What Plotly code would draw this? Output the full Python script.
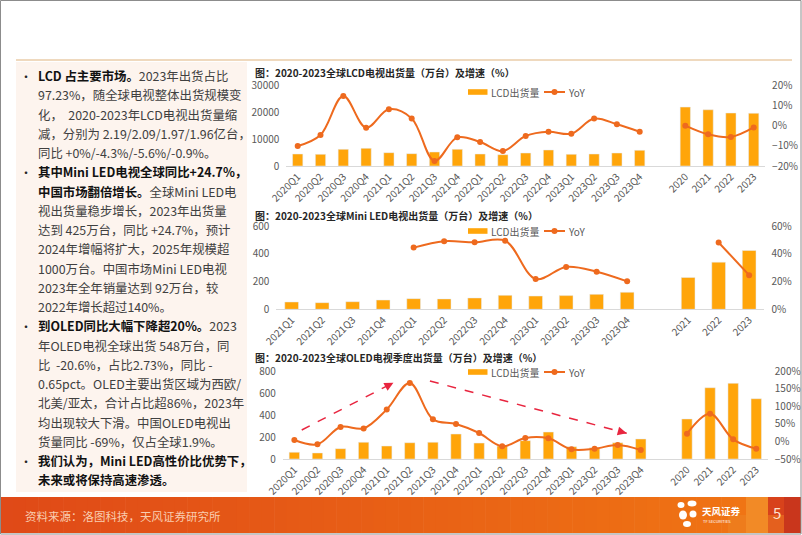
import plotly.graph_objects as go

W, H = 802, 535
def px(x): return x / W
def py(y): return 1 - y / H

# ---------------- data ----------------
lcd_quarters = ['2020Q1','2020Q2','2020Q3','2020Q4','2021Q1','2021Q2','2021Q3','2021Q4',
                '2022Q1','2022Q2','2022Q3','2022Q4','2023Q1','2023Q2','2023Q3','2023Q4']
lcd_years = ['2020','2021','2022','2023']
lcd_q_ship = [4460,4340,6200,6570,4960,4590,5200,6200,4460,4210,4830,5950,4340,4460,4830,5820]
lcd_q_yoy = [-10.1,-4.6,14.7,-1.0,8.1,3.6,-17.5,-5.8,-8.1,-12.6,-5.1,-3.0,-4.0,3.5,0.7,-3.0]
lcd_y_ship = [21900,20900,19700,19600]
lcd_y_yoy = [0.0,-4.3,-5.6,-0.9]

mini_quarters = ['2021Q1','2021Q2','2021Q3','2021Q4','2022Q1','2022Q2','2022Q3','2022Q4',
                 '2023Q1','2023Q2','2023Q3','2023Q4']
mini_years = ['2021','2022','2023']
mini_q_ship = [53,48,55,67,77,75,82,101,96,99,108,123]
mini_q_yoy = [None,None,None,None,44.6,49.2,48.4,49.6,21.9,30.6,27.2,20.2]
mini_y_ship = [230,341,425]
mini_y_yoy = [None,48.3,24.7]

oled_quarters = lcd_quarters
oled_years = ['2020','2021','2022','2023']
oled_q_ship = [61,55,94,152,118,148,152,227,145,118,167,245,112,103,148,182]
oled_q_yoy = [4,-8.3,41,37,90.7,166,62.7,49.4,23.9,-14,9.7,8.7,-22.5,-20.6,-10.2,-24.4]
oled_y_ship = [364,648,688,548]
oled_y_yoy = [22,78.8,5.9,-20.6]

titles = ['图：2020-2023全球LCD电视出货量（万台）及增速（%）',
          '图：2020-2023全球Mini LED电视出货量（万台）及增速（%）',
          '图：2020-2023全球OLED电视季度出货量（万台）及增速（%）']
legend_bar = 'LCD出货量'
legend_line = 'YoY'

text_lines = [
    "<b><span style='color:#111'>LCD 占主要市场。</span></b>2023年出货占比",
    "97.23%，随全球电视整体出货规模变",
    "化，  2020-2023年LCD电视出货量缩",
    "减，分别为 2.19/2.09/1.97/1.96亿台，",
    "同比 +0%/-4.3%/-5.6%/-0.9%。",
    "<b><span style='color:#111'>其中Mini LED电视全球同比+24.7%，</span></b>",
    "<b><span style='color:#111'>中国市场翻倍增长。</span></b>全球Mini LED电",
    "视出货量稳步增长，2023年出货量",
    "达到 425万台，同比 +24.7%，预计",
    "2024年增幅将扩大，2025年规模超",
    "1000万台。中国市场Mini LED电视",
    "2023年全年销量达到 92万台，较",
    "2022年增长超过140%。",
    "<b><span style='color:#111'>到OLED同比大幅下降超20%。</span></b>2023",
    "年OLED电视全球出货 548万台，同",
    "比  -20.6%，占比2.73%，同比 -",
    "0.65pct。OLED主要出货区域为西欧/",
    "北美/亚太，合计占比超86%，2023年",
    "均出现较大下滑。中国OLED电视出",
    "货量同比 -69%，仅占全球1.9%。",
    "<b><span style='color:#111'>我们认为，Mini LED高性价比优势下，</span></b>",
    "<b><span style='color:#111'>未来或将保持高速渗透。</span></b>",
]
bullet_lines = [0, 5, 13, 20]
source_text = '资料来源：洛图科技，天风证券研究所'

# ---------------- style ----------------
FONT = 'Noto Sans CJK SC'
BAR = '#FFA50A'
LINE = '#EE6A1E'
TICK = dict(family=FONT, size=10, color='#595959')

fig = go.Figure()

def add_chart(xa, ya_l, ya_r, quarters, years, q_ship, y_ship, q_yoy, y_yoy):
    cats = quarters + [' '] + years
    fig.add_trace(go.Bar(x=cats, y=q_ship + [None] + y_ship, width=0.45,
                         marker_color=BAR, xaxis=xa, yaxis=ya_l, showlegend=False))
    fig.add_trace(go.Scatter(x=quarters, y=q_yoy, mode='lines+markers',
                             line=dict(color=LINE, width=2, shape='spline', smoothing=1),
                             marker=dict(size=6, color=LINE), connectgaps=False,
                             xaxis=xa, yaxis=ya_r, showlegend=False))
    fig.add_trace(go.Scatter(x=years, y=y_yoy, mode='lines+markers',
                             line=dict(color=LINE, width=2, shape='spline', smoothing=1),
                             marker=dict(size=6, color=LINE),
                             xaxis=xa, yaxis=ya_r, showlegend=False))
    return cats

c1 = add_chart('x', 'y', 'y2', lcd_quarters, lcd_years, lcd_q_ship, lcd_y_ship, lcd_q_yoy, lcd_y_yoy)
c2 = add_chart('x2', 'y3', 'y4', mini_quarters, mini_years, mini_q_ship, mini_y_ship, mini_q_yoy, mini_y_yoy)
c3 = add_chart('x3', 'y5', 'y6', oled_quarters, oled_years, oled_q_ship, oled_y_ship, oled_q_yoy, oled_y_yoy)

def xax(domain, cats, anchor):
    return dict(domain=domain, anchor=anchor, type='category', categoryorder='array',
                categoryarray=cats, range=[-0.5, len(cats) - 0.5], tickangle=-45,
                tickfont=TICK, showline=True, linecolor='#d9d9d9', linewidth=1,
                showgrid=False, zeroline=False, ticks='', fixedrange=True, automargin=False)

def yl(domain, anchor, rng, dt):
    return dict(domain=domain, anchor=anchor, range=rng, dtick=dt, tickfont=TICK, tickformat='d',
                showgrid=False, zeroline=False, showline=False, ticklabelstandoff=6, automargin=False)

def yr(overlay, anchor, rng, dt):
    return dict(overlaying=overlay, anchor=anchor, side='right', range=rng, dtick=dt,
                ticksuffix='%', tickfont=TICK, showgrid=False, zeroline=False,
                showline=False, ticklabelstandoff=6, automargin=False)

fig.update_layout(
    width=W, height=H, margin=dict(l=0, r=0, t=0, b=0, autoexpand=False),
    paper_bgcolor='white', plot_bgcolor='rgba(0,0,0,0)',
    font=dict(family=FONT), bargap=0.5,
    xaxis=xax([px(286.3), px(765.1)], c1, 'y'),
    yaxis=yl([py(166), py(85.3)], 'x', [0, 30000], 10000),
    yaxis2=yr('y', 'x', [-20, 20], 10),
    xaxis2=xax([px(276.4), px(764.4)], c2, 'y3'),
    yaxis3=yl([py(309.3), py(226.3)], 'x2', [0, 600], 200),
    yaxis4=yr('y3', 'x2', [0, 60], 20),
    xaxis3=xax([px(282.8), px(767.8)], c3, 'y5'),
    yaxis5=yl([py(459), py(371)], 'x3', [0, 800], 200),
    yaxis6=yr('y5', 'x3', [-50, 200], 50),
)

shapes = []
anns = []

# left panel, header line
shapes.append(dict(type='rect', xref='paper', yref='paper', x0=px(16), x1=px(247), y0=py(492), y1=py(62),
                   fillcolor='#FDF4EE', line=dict(width=0), layer='below'))
shapes.append(dict(type='line', xref='paper', yref='paper', x0=px(16), x1=px(792), y0=py(60), y1=py(60),
                   line=dict(color='#EFD9BE', width=2)))

# footer gradient
n = 60
c0, c1c = (224, 74, 24), (240, 116, 20)
fx0, fx1 = 1, 746
for i in range(n):
    t = i / (n - 1)
    col = tuple(int(c0[k] + (c1c[k] - c0[k]) * t) for k in range(3))
    xa = fx0 + (fx1 - fx0) * i / n
    xb = fx0 + (fx1 - fx0) * (i + 1) / n + 0.6
    shapes.append(dict(type='rect', xref='paper', yref='paper', x0=px(xa), x1=px(xb), y0=py(533), y1=py(497),
                       fillcolor='rgb(%d,%d,%d)' % col, line=dict(width=0)))
for (xa, xb, ya, yb, col) in [(746, 768, 497, 533, '#F28A26'), (768, 784, 497, 515, '#D8421B'),
                              (768, 784, 515, 533, '#E4601E'), (784, 801, 497, 533, '#C9361C'),
                              (728, 746, 515, 533, '#EE7C1C')]:
    shapes.append(dict(type='rect', xref='paper', yref='paper', x0=px(xa), x1=px(xb), y0=py(yb), y1=py(ya),
                       fillcolor=col, line=dict(width=0)))
# logo petals
for (cx, cy, rx, ry) in [(681, 505, 3.5, 3), (692, 503.5, 4.5, 3), (683, 515, 4, 4.5), (693, 514, 3.5, 3.5), (687, 524, 4, 3)]:
    shapes.append(dict(type='circle', xref='paper', yref='paper', x0=px(cx - rx), x1=px(cx + rx),
                       y0=py(cy + ry), y1=py(cy - ry), fillcolor='white', line=dict(width=0)))
# slide border
shapes.append(dict(type='rect', xref='paper', yref='paper', x0=px(0.5), x1=px(801), y0=py(534), y1=py(0.5),
                   line=dict(color='#8c8c8c', width=1), fillcolor='rgba(0,0,0,0)'))

# bottom chart dashed arrows
arrows = [((0.32, 264), (4.29, 694)), ((5.87, 709), (14.39, 234))]
for (s, e) in arrows:
    shapes.append(dict(type='line', xref='x3', yref='y5', x0=s[0], y0=s[1], x1=e[0], y1=e[1],
                       line=dict(color='#E8253F', width=1.5, dash='dash')))
anns.append(dict(xref='x3', yref='y5', x=4.29, y=694, ax=-7, ay=3.7, axref='pixel', ayref='pixel',
                 text='', showarrow=True, arrowhead=2, arrowsize=1.2, arrowwidth=1.5, arrowcolor='#E8253F'))
anns.append(dict(xref='x3', yref='y5', x=14.39, y=234, ax=-7.7, ay=-2, axref='pixel', ayref='pixel',
                 text='', showarrow=True, arrowhead=2, arrowsize=1.2, arrowwidth=1.5, arrowcolor='#E8253F'))

# chart titles and manual legends
for title, ty in zip(titles, [72.5, 215.5, 357.5]):
    anns.append(dict(xref='paper', yref='paper', x=px(253), y=py(ty), xanchor='left', yanchor='middle',
                     text='<b>' + title + '</b>', showarrow=False, font=dict(family=FONT, size=10, color='#262626')))
for ly in [92, 231, 372]:
    shapes.append(dict(type='rect', xref='paper', yref='paper', x0=px(468), x1=px(487.5), y0=py(ly + 2.8), y1=py(ly - 2.8),
                       fillcolor=BAR, line=dict(width=0)))
    shapes.append(dict(type='line', xref='paper', yref='paper', x0=px(544), x1=px(565), y0=py(ly), y1=py(ly),
                       line=dict(color=LINE, width=2)))
    shapes.append(dict(type='circle', xref='paper', yref='paper', x0=px(551.5), x1=px(557.5), y0=py(ly + 3), y1=py(ly - 3),
                       fillcolor=LINE, line=dict(width=0)))
    anns.append(dict(xref='paper', yref='paper', x=px(489), y=py(ly), xanchor='left', yanchor='middle',
                     text=legend_bar, showarrow=False, font=dict(family=FONT, size=10, color='#595959')))
    anns.append(dict(xref='paper', yref='paper', x=px(566), y=py(ly), xanchor='left', yanchor='middle',
                     text=legend_line, showarrow=False, font=dict(family=FONT, size=10, color='#595959')))

# left panel text
for i, line in enumerate(text_lines):
    yy = 76 + 19.25 * i
    anns.append(dict(xref='paper', yref='paper', x=px(36), y=py(yy), xanchor='left', yanchor='middle',
                     text=line, showarrow=False, font=dict(family=FONT, size=12.4, color='#404040')))
    if i in bullet_lines:
        anns.append(dict(xref='paper', yref='paper', x=px(26), y=py(yy), xanchor='center', yanchor='middle',
                         text='•', showarrow=False, font=dict(family=FONT, size=12, color='#262626')))

# footer texts
anns.append(dict(xref='paper', yref='paper', x=px(23), y=py(516), xanchor='left', yanchor='middle',
                 text=source_text, showarrow=False, font=dict(family=FONT, size=11.5, color='#F9CDB0')))
anns.append(dict(xref='paper', yref='paper', x=px(700), y=py(511), xanchor='left', yanchor='middle',
                 text='<b>天风证券</b>', showarrow=False, font=dict(family=FONT, size=9.5, color='white')))
anns.append(dict(xref='paper', yref='paper', x=px(701), y=py(521), xanchor='left', yanchor='middle',
                 text='TF SECURITIES', showarrow=False, font=dict(family=FONT, size=4, color='white')))
anns.append(dict(xref='paper', yref='paper', x=px(777), y=py(512), xanchor='center', yanchor='middle',
                 text='5', showarrow=False, font=dict(family=FONT, size=15, color='#FDE3CF')))

fig.update_layout(shapes=shapes, annotations=anns)
fig.write_html('out.html', config={'displayModeBar': False},
               post_script="document.body.style.margin='0';document.body.style.overflow='hidden';")
